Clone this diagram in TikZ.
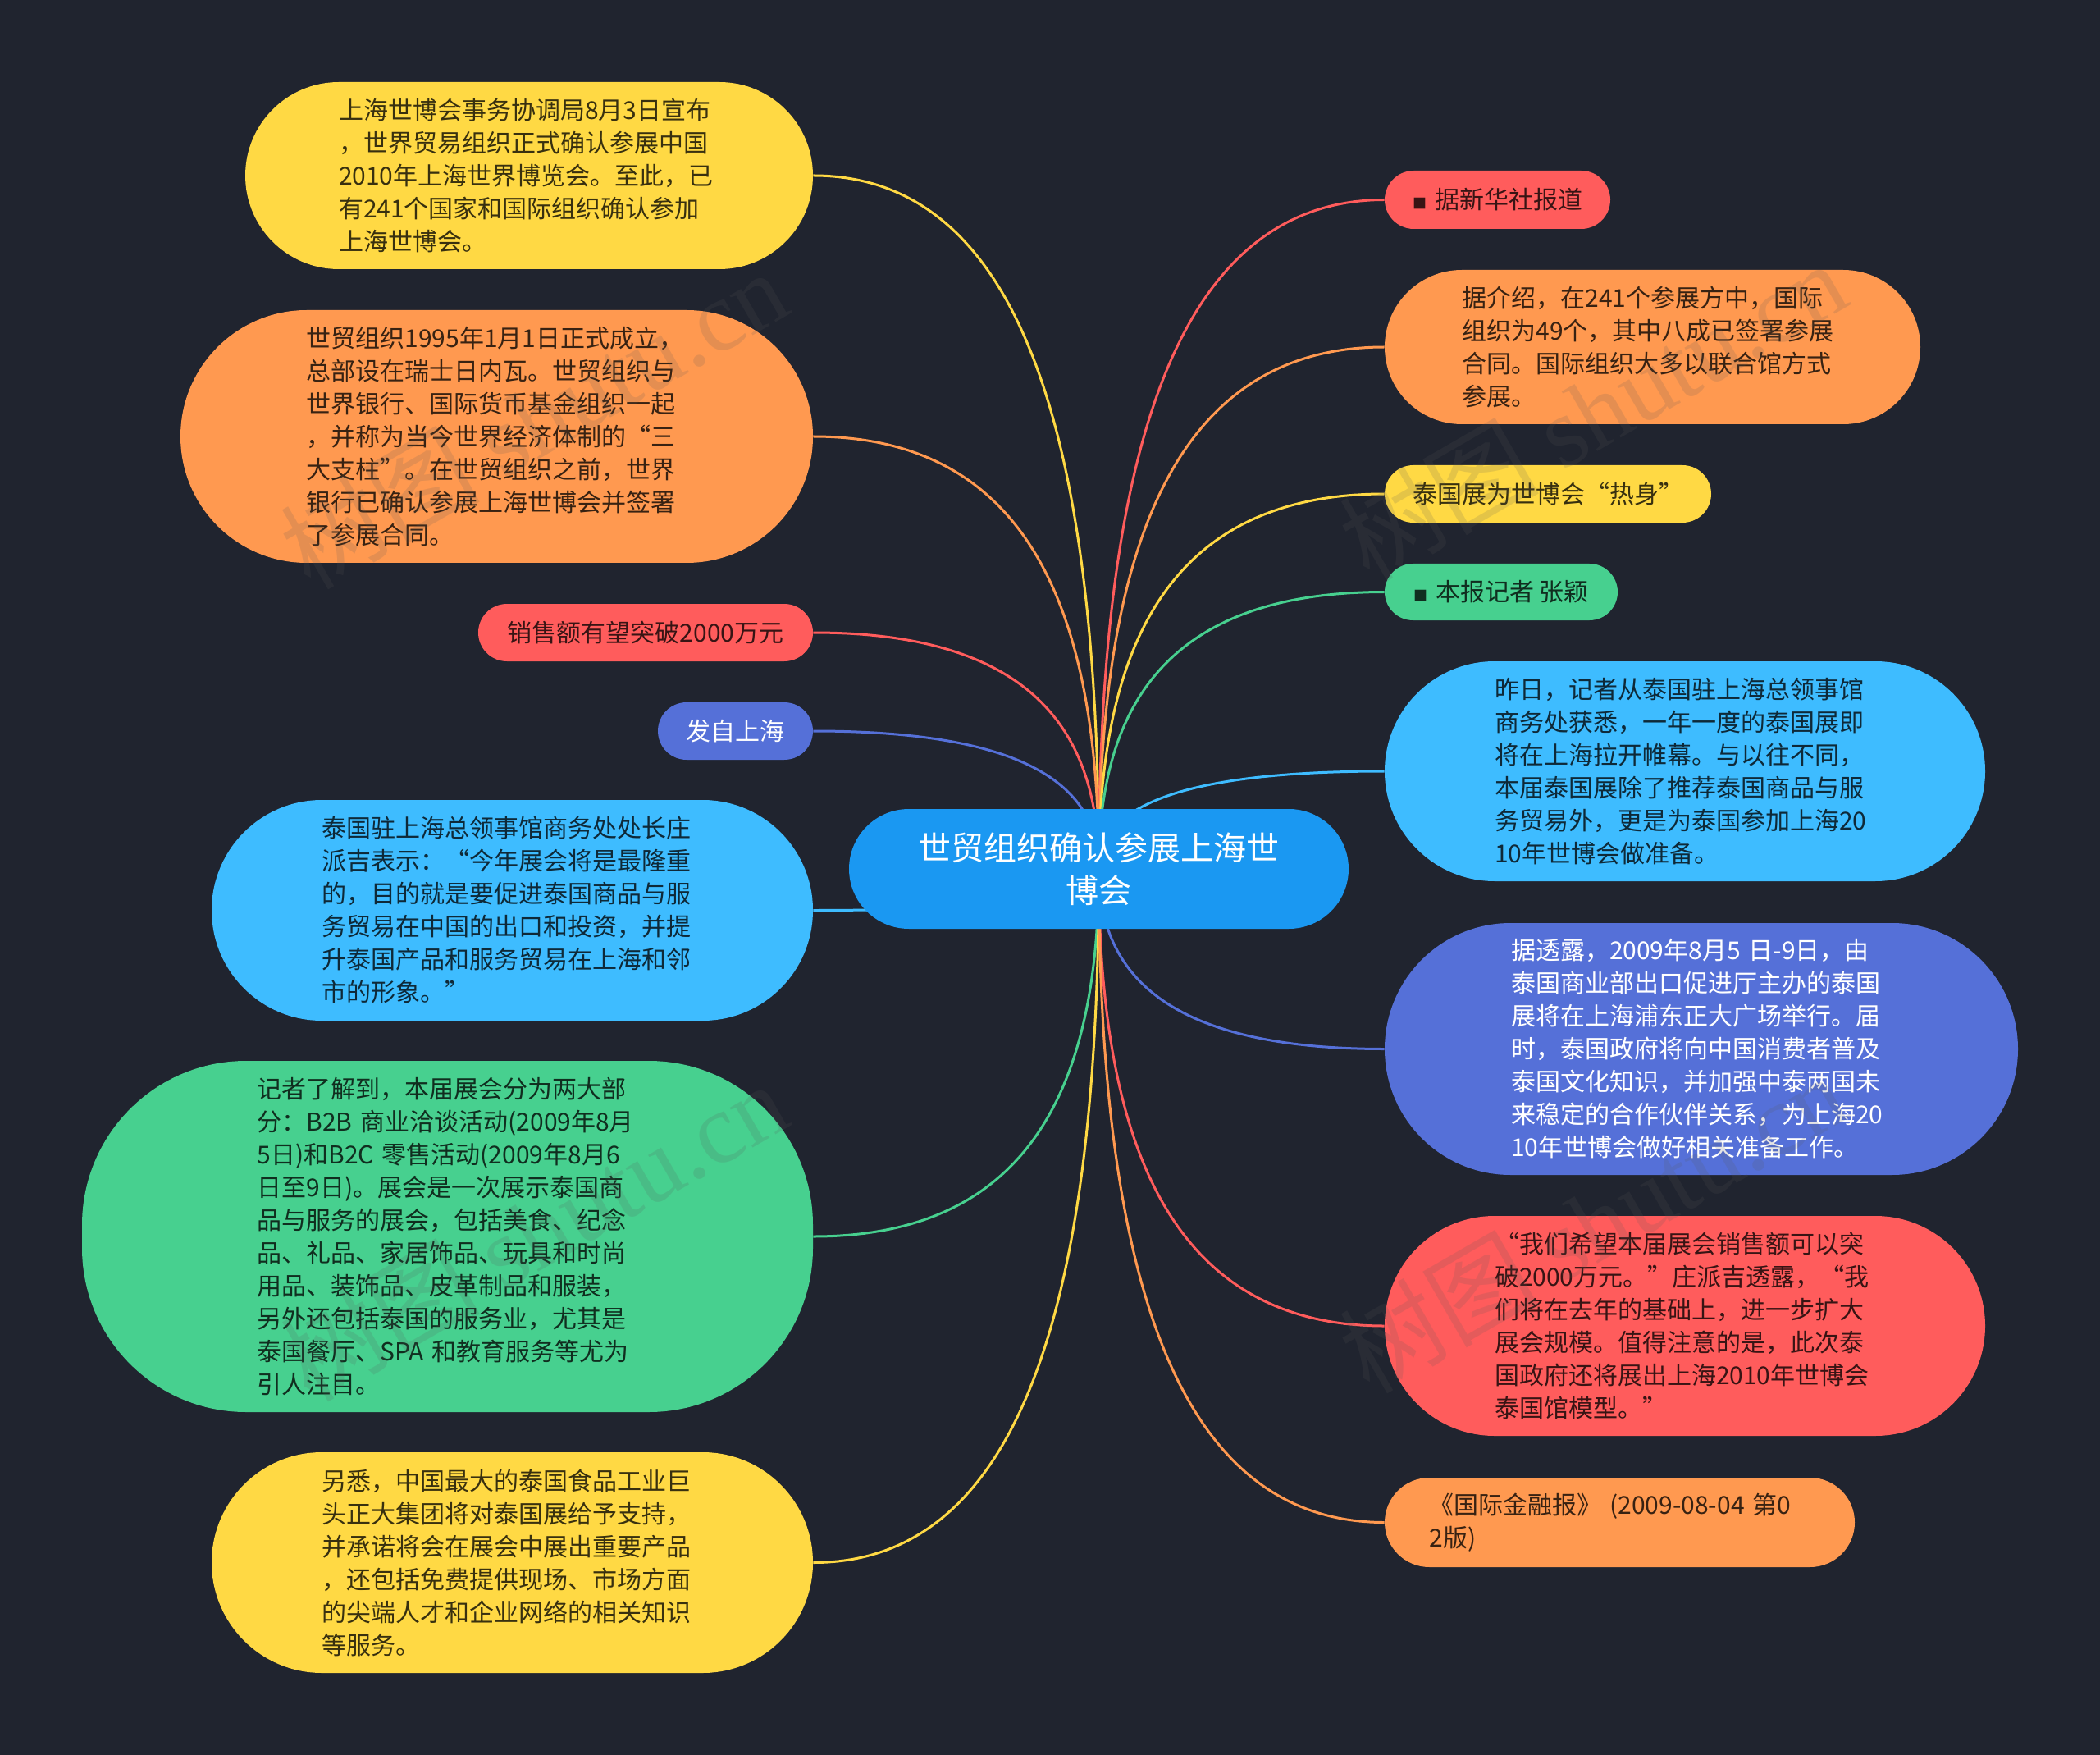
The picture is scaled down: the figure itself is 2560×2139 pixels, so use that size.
\documentclass[tikz,border=0pt]{standalone}
\usepackage{fontspec}
\setmainfont{Noto Sans CJK SC}
\newfontfamily\markfont{Liberation Serif}
\usetikzlibrary{calc}
\definecolor{bgDark}{HTML}{20242F}
\definecolor{rootBlue}{HTML}{1A98F2}
\definecolor{mapYellow}{HTML}{FFD944}
\definecolor{mapOrange}{HTML}{FF9950}
\definecolor{mapRed}{HTML}{FF5C5C}
\definecolor{mapIndigo}{HTML}{5570D8}
\definecolor{mapBlue}{HTML}{3EBCFF}
\definecolor{mapGreen}{HTML}{47D08F}
\pgfdeclarelayer{lineLayer}
\pgfsetlayers{lineLayer,main}
\begin{document}
\begin{tikzpicture}
[x=0.5pt,y=-0.5pt,
  lineDecorate/.style={line width=1.5pt},%
  nodeDecorate/.style={shape=rectangle,inner sep=0pt,font=\fontsize{15}{20}\selectfont},
  longDecorate/.style={nodeDecorate,align=left,text width=232pt},
  rootDecorate/.style={nodeDecorate,align=center,fill=rootBlue,text=white,
    minimum width=304.5pt,minimum height=73pt,rounded corners=36.5pt,
    font=\fontsize{20}{26}\selectfont},
  markDecorate/.style={rotate=30,text=black!65,opacity=0.16,font=\fontsize{61}{61}\selectfont}]
\useasboundingbox (0,0) rectangle (2560,2139);
%% central node
\node (root) at (1339.5,1059) [rootDecorate] {世贸组织确认参展上海世\\博会};
%% nodes with several lines
\foreach \nodename/\x/\y/\w/\h/\col/\tcol/\txt in {
  L1/645/214/692/228/mapYellow/mapYellow!22!black/{上海世博会事务协调局8月3日宣布\\，世界贸易组织正式确认参展中国\\2010年上海世界博览会。至此，已\\有241个国家和国际组织确认参加\\上海世博会。},
  L2/605.5/532/771/308/mapOrange/mapOrange!22!black/{世贸组织1995年1月1日正式成立，\\总部设在瑞士日内瓦。世贸组织与\\世界银行、国际货币基金组织一起\\，并称为当今世界经济体制的“三\\大支柱”。在世贸组织之前，世界\\银行已确认参展上海世博会并签署\\了参展合同。},
  L5/624.5/1109.5/733/269/mapBlue/mapBlue!22!black/{泰国驻上海总领事馆商务处处长庄\\派吉表示：“今年展会将是最隆重\\的，目的就是要促进泰国商品与服\\务贸易在中国的出口和投资，并提\\升泰国产品和服务贸易在上海和邻\\市的形象。”},
  L6/545.5/1507/891/428/mapGreen/mapGreen!22!black/{记者了解到，本届展会分为两大部\\分：B2B 商业洽谈活动(2009年8月\\5日)和B2C 零售活动(2009年8月6\\日至9日)。展会是一次展示泰国商\\品与服务的展会，包括美食、纪念\\品、礼品、家居饰品、玩具和时尚\\用品、装饰品、皮革制品和服装，\\另外还包括泰国的服务业，尤其是\\泰国餐厅、SPA 和教育服务等尤为\\引人注目。},
  L7/624.5/1904.5/733/269/mapYellow/mapYellow!22!black/{另悉，中国最大的泰国食品工业巨\\头正大集团将对泰国展给予支持，\\并承诺将会在展会中展出重要产品\\，还包括免费提供现场、市场方面\\的尖端人才和企业网络的相关知识\\等服务。},
  R2/2014.5/423/653/188/mapOrange/mapOrange!22!black/{据介绍，在241个参展方中，国际\\组织为49个，其中八成已签署参展\\合同。国际组织大多以联合馆方式\\参展。},
  R5/2054/940/732/268/mapBlue/mapBlue!22!black/{昨日，记者从泰国驻上海总领事馆\\商务处获悉，一年一度的泰国展即\\将在上海拉开帷幕。与以往不同，\\本届泰国展除了推荐泰国商品与服\\务贸易外，更是为泰国参加上海20\\10年世博会做准备。},
  R6/2074/1278.5/772/307/mapIndigo/white/{据透露，2009年8月5 日-9日，由\\泰国商业部出口促进厅主办的泰国\\展将在上海浦东正大广场举行。届\\时，泰国政府将向中国消费者普及\\泰国文化知识，并加强中泰两国未\\来稳定的合作伙伴关系，为上海20\\10年世博会做好相关准备工作。},
  R7/2054/1616/732/268/mapRed/mapRed!22!black/{“我们希望本届展会销售额可以突\\破2000万元。”庄派吉透露，“我\\们将在去年的基础上，进一步扩大\\展会规模。值得注意的是，此次泰\\国政府还将展出上海2010年世博会\\泰国馆模型。”},
  R8/1974.5/1855.5/573/109/mapOrange/mapOrange!22!black/{《国际金融报》 (2009-08-04 第0\\2版)}}
{
  \node (\nodename) at (\x,\y) [longDecorate,fill=\col,text=\tcol,
    minimum width=\w*0.5pt,minimum height=\h*0.5pt,
    rounded corners={min(\h/2,200)*0.5pt}] {\txt};
}
%% nodes with one line
\foreach \nodename/\x/\y/\w/\h/\col/\tcol/\txt in {
  L3/787/771/408/70/mapRed/mapRed!22!black/{销售额有望突破2000万元},
  L4/896.5/891/189/70/mapIndigo/white/{发自上海},
  R1/1825.5/243.5/275/71/mapRed/mapRed!22!black/{{\fontsize{8.5}{8}\selectfont ■}\hspace{5pt}据新华社报道},
  R3/1887/602/398/70/mapYellow/mapYellow!22!black/{泰国展为世博会“热身”},
  R4/1830/721.5/284/69/mapGreen/mapGreen!22!black/{{\fontsize{8.5}{8}\selectfont ■}\hspace{5pt}本报记者 张颖}}
{
  \node (\nodename) at (\x,\y) [nodeDecorate,fill=\col,text=\tcol,
    minimum width=\w*0.5pt,minimum height=\h*0.5pt,rounded corners=\h*0.25pt] {\txt};
}
%% faint marks
\foreach \markname/\x/\y in {
  M1/650/510, M2/650/1500, M3/1941/500, M4/1941/1490}
{
  \node (\markname) at (\x,\y) [markDecorate] {树图 {\markfont shutu.cn}};
}
%% edges or lines
\begin{pgfonlayer}{lineLayer}
\fill[bgDark] (0,0) rectangle (2560,2139);
\foreach \startnode/\side/\col in {
  L1/east/mapYellow, L2/east/mapOrange, L3/east/mapRed, L4/east/mapIndigo,
  L5/east/mapBlue, L6/east/mapGreen, L7/east/mapYellow,
  R1/west/mapRed, R2/west/mapOrange, R3/west/mapYellow, R4/west/mapGreen,
  R5/west/mapBlue, R6/west/mapIndigo, R7/west/mapRed, R8/west/mapOrange}
{
  \draw[lineDecorate,\col] (\startnode.\side)
    .. controls ($(\startnode.\side)!0.75!(root.center |- \startnode.\side)$)
    and ($(root.center)!0.6!(root.center |- \startnode.\side)$) .. (root.center);
}
\end{pgfonlayer}
\end{tikzpicture}
\end{document}
